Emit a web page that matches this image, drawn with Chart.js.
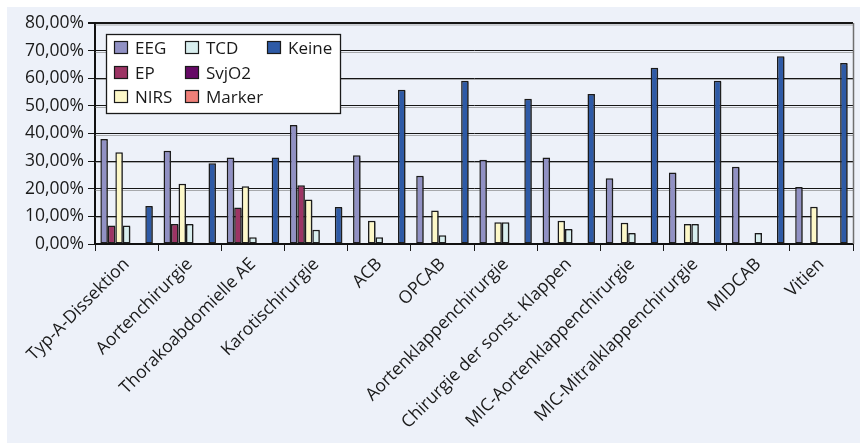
<!DOCTYPE html>
<html>
<head>
<meta charset="utf-8">
<script src="https://cdn.jsdelivr.net/npm/chart.js@4/dist/chart.umd.min.js"></script>
<style>
  html, body { margin: 0; padding: 0; background: #ffffff; }
  #wrap { width: 864px; height: 444px; }
</style>
</head>
<body>
<div id="wrap"><canvas id="c" width="864" height="444"></canvas></div>
<script>
// Eingriffsarten
const categories = [
  'Typ-A-Dissektion', 'Aortenchirurgie', 'Thorakoabdomielle AE', 'Karotischirurgie',
  'ACB', 'OPCAB', 'Aortenklappenchirurgie', 'Chirurgie der sonst. Klappen',
  'MIC-Aortenklappenchirurgie', 'MIC-Mitralklappenchirurgie', 'MIDCAB', 'Vitien'
];

// Anteile je Neuromonitoring-Verfahren in %
const eeg    = [38.0, 33.8, 31.3, 43.1, 32.1, 24.7, 30.5, 31.3, 23.8, 25.9, 28.0, 20.6];
const ep     = [6.7, 7.2, 13.2, 21.3, 0, 0, 0, 0, 0, 0, 0, 0];
const nirs   = [33.2, 21.8, 20.9, 16.1, 8.4, 12.1, 7.9, 8.4, 7.7, 7.2, 0, 13.5];
const tcd    = [6.7, 7.2, 2.4, 5.2, 2.4, 3.2, 7.9, 5.4, 4.0, 7.2, 4.0, 0];
const svjo2  = [0, 0, 0, 0, 0, 0, 0, 0, 0, 0, 0, 0];
const marker = [0, 0, 0, 0, 0, 0, 0, 0, 0, 0, 0, 0];
const keine  = [13.8, 29.2, 31.3, 13.4, 55.8, 59.1, 52.6, 54.3, 63.8, 59.1, 68.0, 65.5];

const yTicks = [0, 10, 20, 30, 40, 50, 60, 70, 80];

const FONT = "'Open Sans', 'Noto Sans', sans-serif";
const TEXT = '#1a1a1a';
const EDGE = '#1a1a1a';

const series = [
  { label: 'EEG',    data: eeg,    color: '#9191c4' },
  { label: 'EP',     data: ep,     color: '#9c3464' },
  { label: 'NIRS',   data: nirs,   color: '#fdf8c8' },
  { label: 'TCD',    data: tcd,    color: '#d8eeee' },
  { label: 'SvjO2',  data: svjo2,  color: '#660a66' },
  { label: 'Marker', data: marker, color: '#ef7f78' },
  { label: 'Keine',  data: keine,  color: '#2e5aa6' }
];

const fmt = v => v.toFixed(2).replace('.', ',') + '%';
// a 0 % share gets no visible bar
const barValue = v => (v === 0 ? null : v);

// panel background behind everything
const panelBg = {
  id: 'panelBg',
  beforeDraw(chart) {
    const c = chart.ctx;
    c.save();
    c.fillStyle = '#ffffff';
    c.fillRect(0, 0, chart.width, chart.height);
    c.fillStyle = '#edf1f9';
    c.fillRect(7, 7, 853, 436);
    c.restore();
  }
};

// soft grey shadow under each horizontal grid line, then bar shadows
const shadows = {
  id: 'shadows',
  beforeDatasetsDraw(chart) {
    const c = chart.ctx, a = chart.chartArea, y = chart.scales.y;
    c.save();
    c.strokeStyle = 'rgba(110,110,110,0.55)';
    c.lineWidth = 1;
    yTicks.forEach(v => {
      if (v === 0) return;
      const py = Math.round(y.getPixelForValue(v)) + (v === 80 ? 2 : 1.5);
      c.beginPath();
      c.moveTo(a.left, py);
      c.lineTo(a.right, py);
      c.stroke();
    });
    c.restore();
    c.save();
    c.shadowColor = 'rgba(40,40,40,0.45)';
    c.shadowOffsetX = 1.5;
    c.shadowOffsetY = 1;
    c.shadowBlur = 0.5;
  },
  afterDatasetsDraw(chart) {
    chart.ctx.restore();
  }
};

// right frame line of the plot area
const frame = {
  id: 'frame',
  afterDraw(chart) {
    const a = chart.chartArea, c = chart.ctx;
    c.save();
    c.strokeStyle = '#6f6f6f';
    c.lineWidth = 1.5;
    c.beginPath();
    c.moveTo(a.right + 0.5, a.top);
    c.lineTo(a.right + 0.5, a.bottom);
    c.stroke();
    c.restore();
  }
};

// boxed legend in three columns inside the plot
const boxLegend = {
  id: 'boxLegend',
  afterDraw(chart) {
    const c = chart.ctx;
    const x0 = 106, y0 = 34, w = 234, h = 79;
    c.save();
    c.fillStyle = '#ffffff';
    c.fillRect(x0, y0, w, h);
    c.strokeStyle = '#1a1a1a';
    c.lineWidth = 1.3;
    c.strokeRect(x0 + 0.5, y0 + 0.5, w, h);
    const colX = [x0 + 8, x0 + 79, x0 + 161];
    const rowY = [y0 + 14, y0 + 39, y0 + 63];
    c.font = '17px ' + FONT;
    c.textBaseline = 'middle';
    chart.data.datasets.forEach((ds, i) => {
      const col = Math.floor(i / 3), row = i % 3;
      const sx = colX[col], sy = rowY[row];
      c.fillStyle = ds.backgroundColor;
      c.fillRect(sx, sy - 7, 14, 13);
      c.strokeStyle = EDGE;
      c.lineWidth = 1.2;
      c.strokeRect(sx + 0.5, sy - 6.5, 13, 12);
      c.fillStyle = TEXT;
      c.fillText(ds.label, sx + 21, sy + 1);
    });
    c.restore();
  }
};

new Chart(document.getElementById('c'), {
  type: 'bar',
  data: {
    labels: categories,
    datasets: series.map(s => ({
      label: s.label,
      data: s.data.map(barValue),
      backgroundColor: s.color,
      borderColor: EDGE,
      borderWidth: 1.5,
      borderSkipped: false,
      barPercentage: 1.0,
      categoryPercentage: 0.83
    }))
  },
  options: {
    responsive: false,
    animation: false,
    devicePixelRatio: 1,
    layout: { padding: { top: 23, right: 11, left: 0, bottom: 0 } },
    plugins: {
      legend: { display: false },
      tooltip: { enabled: false }
    },
    scales: {
      x: {
        offset: true,
        grid: {
          offset: true,
          drawOnChartArea: false,
          drawTicks: true,
          tickLength: 7,
          color: '#1a1a1a',
          lineWidth: 1
        },
        border: { color: '#111111', width: 2 },
        ticks: {
          autoSkip: false,
          maxRotation: 45,
          minRotation: 45,
          padding: 3,
          color: TEXT,
          font: { family: FONT, size: 17.5 }
        },
        afterFit(scale) { scale.height = 200; }
      },
      y: {
        min: 0,
        max: 80,
        afterBuildTicks(scale) { scale.ticks = yTicks.map(v => ({ value: v })); },
        grid: {
          color: '#151515',
          lineWidth: ctx => (ctx.tick && ctx.tick.value === 80 ? 2 : 1),
          drawTicks: true,
          tickLength: 7
        },
        border: { color: '#111111', width: 2 },
        ticks: {
          padding: 4,
          color: TEXT,
          font: { family: FONT, size: 17.5 },
          callback: v => fmt(v)
        },
        afterFit(scale) { scale.width = 95; }
      }
    }
  },
  plugins: [panelBg, shadows, frame, boxLegend]
});
</script>
</body>
</html>
